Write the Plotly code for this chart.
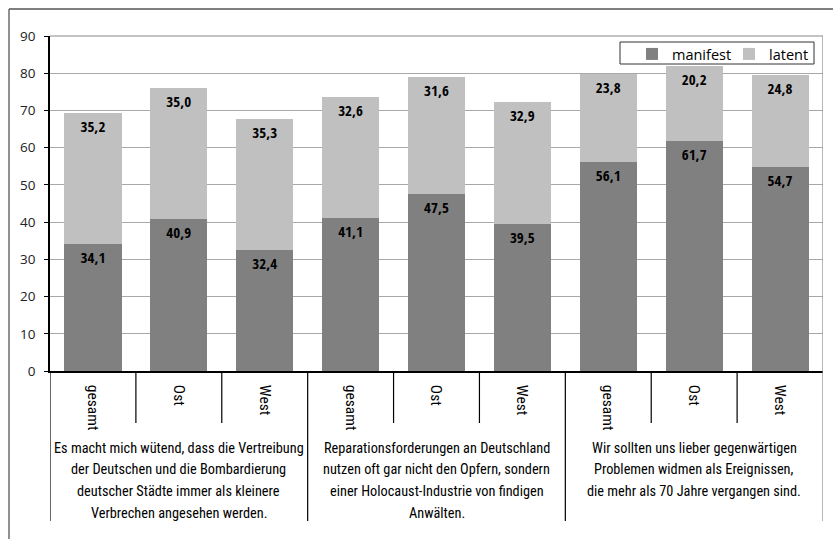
import plotly.graph_objects as go

categories = ["gesamt", "Ost", "West", "gesamt", "Ost", "West", "gesamt", "Ost", "West"]
groups = [
    ["Es macht mich wütend, dass die Vertreibung", "der Deutschen und die Bombardierung",
     "deutscher Städte immer als kleinere", "Verbrechen angesehen werden."],
    ["Reparationsforderungen an Deutschland", "nutzen oft gar nicht den Opfern, sondern",
     "einer Holocaust-Industrie von findigen", "Anwälten."],
    ["Wir sollten uns lieber gegenwärtigen", "Problemen widmen als Ereignissen,",
     "die mehr als 70 Jahre vergangen sind."],
]
manifest = [34.1, 40.9, 32.4, 41.1, 47.5, 39.5, 56.1, 61.7, 54.7]
latent = [35.2, 35.0, 35.3, 32.6, 31.6, 32.9, 23.8, 20.2, 24.8]
y_ticks = [0, 10, 20, 30, 40, 50, 60, 70, 80, 90]

COND = "Roboto Condensed, sans-serif"
BOLD = "Open Sans Condensed, Roboto Condensed, sans-serif"
REG = "Open Sans, Noto Sans, sans-serif"

xpos = list(range(len(categories)))

fig = go.Figure()
for name, vals, col in [("manifest", manifest, "#808080"), ("latent", latent, "#c0c0c0")]:
    fig.add_trace(go.Bar(
        x=xpos, y=vals, name=name, marker=dict(color=col, line=dict(width=0)),
        texttemplate="%{y:.1f}", textposition="inside", insidetextanchor="end",
        textangle=0, constraintext="none",
        textfont=dict(family=BOLD, size=15, color="black", weight="bold"),
    ))

W, H = 833, 539
L, R, T, B = 50, 10, 36, 168
pw, ph = W - L - R, H - T - B

def py(px):  # pixel y -> paper y
    return (H - B - px) / ph

def pxp(px):  # pixel x -> paper x
    return (px - L) / pw

shapes = []
# outer frame (left and top)
shapes.append(dict(type="line", xref="paper", yref="paper", x0=pxp(9), x1=pxp(9), y0=py(9), y1=py(545),
                   line=dict(color="#555555", width=1.3)))
shapes.append(dict(type="line", xref="paper", yref="paper", x0=pxp(9), x1=pxp(840), y0=py(9), y1=py(9),
                   line=dict(color="#555555", width=1.3)))
# plot area top border
shapes.append(dict(type="line", xref="paper", yref="paper", x0=0, x1=1, y0=1, y1=1,
                   line=dict(color="#888888", width=1)))
# legend box
shapes.append(dict(type="rect", xref="paper", yref="paper", x0=pxp(620), x1=pxp(814), y0=py(42), y1=py(64),
                   line=dict(color="#333333", width=1), fillcolor="white", layer="above"))
# dividers
n = len(categories)
for i in range(n + 1):
    b = i - 0.5
    grp = (i % 3 == 0)
    y1 = py(521) if grp else py(423)
    color = "#888888" if i == n else "black"
    y0 = 1 if i == n else 0
    shapes.append(dict(type="line", xref="x", yref="paper", x0=b, x1=b, y0=y0, y1=y1,
                       line=dict(color=color, width=1.2)))

annotations = []
for g, lines in enumerate(groups):
    for k, line in enumerate(lines):
        annotations.append(dict(
            x=g * 3 + 1, xref="x", y=py(447.5 + k * 21.8), yref="paper", yanchor="middle", xanchor="center",
            text=line, showarrow=False, align="center",
            font=dict(family=COND, size=14.3, color="black"),
        ))

fig.update_layout(
    width=W, height=H, barmode="stack", bargap=0.335,
    separators=",.",
    margin=dict(l=L, r=R, t=T, b=B, autoexpand=False),
    paper_bgcolor="white", plot_bgcolor="white",
    showlegend=True,
    legend=dict(orientation="h", x=pxp(632), y=py(38), xanchor="left", yanchor="top",
                bgcolor="rgba(0,0,0,0)", borderwidth=0, traceorder="normal",
                font=dict(family=REG, size=14.5, color="black"),
                entrywidth=52, itemwidth=30),
    xaxis=dict(range=[-0.5, n - 0.5], tickmode="array", tickvals=xpos, ticktext=categories,
               tickangle=90, ticks="", showline=True, linecolor="black", linewidth=1.5,
               showgrid=False, zeroline=False, ticklabelstandoff=9,
               tickfont=dict(family=COND, size=15.5, color="black")),
    yaxis=dict(range=[0, 90], tickvals=y_ticks, showgrid=True, gridcolor="#a8a8a8", gridwidth=1,
               showline=True, linecolor="black", linewidth=1.5, ticks="outside", ticklen=4,
               tickcolor="black", zeroline=False, ticklabelstandoff=6,
               tickfont=dict(family=REG, size=13.5, color="#222222")),
    shapes=shapes, annotations=annotations,
)

fig.write_html("out.html", config={"displayModeBar": False},
               post_script="document.body.style.margin='0px';")
